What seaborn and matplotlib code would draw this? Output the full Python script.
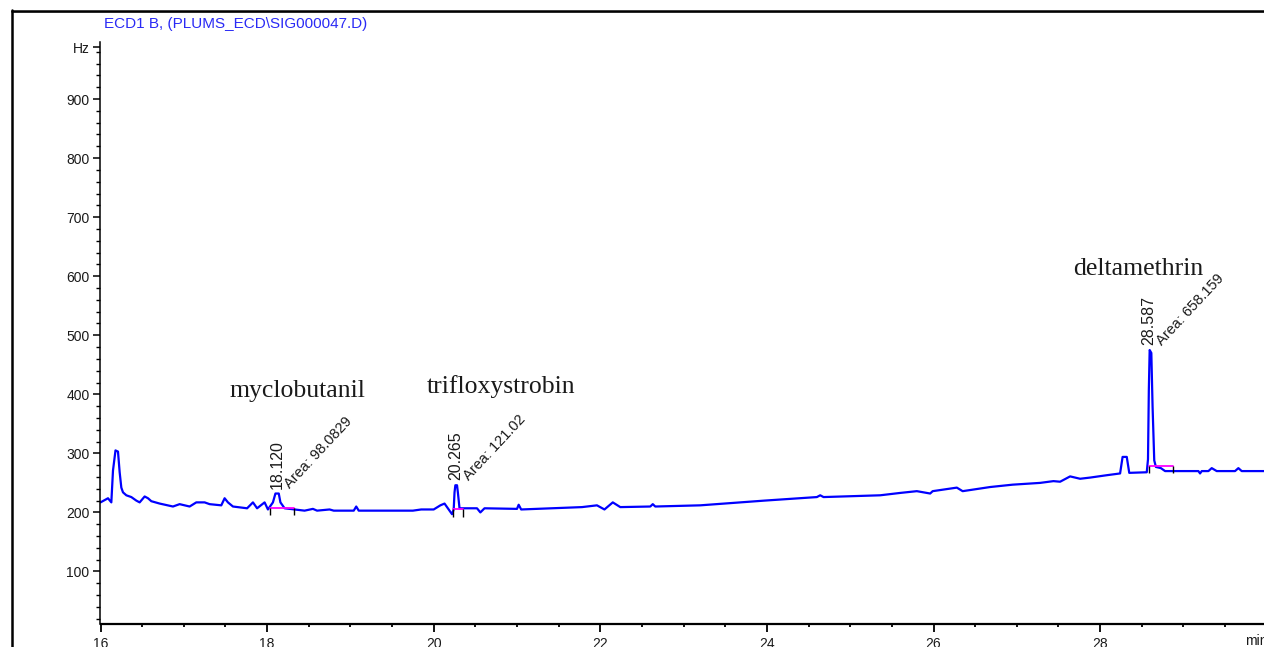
import numpy as np
import matplotlib
matplotlib.use("Agg")
import matplotlib.pyplot as plt
from matplotlib.lines import Line2D
from matplotlib.ticker import MultipleLocator
import seaborn as sns

# chromatogram trace (retention time in min, detector signal in Hz)
time_min = [
    16.00, 16.09, 16.13, 16.15, 16.18, 16.21, 16.23, 16.25, 16.27, 16.31, 16.37, 16.43, 16.47, 16.53, 16.57, 16.61,
    16.71, 16.87, 16.95, 17.07, 17.15, 17.25, 17.31, 17.45, 17.49, 17.53, 17.59, 17.76, 17.83, 17.88, 17.97, 18.01,
    18.07, 18.10, 18.14, 18.16, 18.21, 18.33,
    18.45, 18.55, 18.60, 18.75, 18.80, 19.04, 19.07, 19.10, 19.50, 19.75, 19.85, 20.00, 20.08, 20.13, 20.18, 20.22,
    20.24, 20.25, 20.26, 20.28, 20.29, 20.31,
    20.52, 20.56, 20.61, 21.00, 21.02, 21.05, 21.78, 21.96, 22.05, 22.15, 22.24, 22.60, 22.63, 22.66, 23.20, 23.97,
    24.60, 24.64, 24.68,
    25.36, 25.60, 25.80, 25.96, 25.99, 26.28, 26.35, 26.68, 26.95, 27.28, 27.44, 27.52, 27.64, 27.76, 27.88, 28.08,
    28.24, 28.27, 28.32, 28.35,
    28.56, 28.575, 28.585, 28.595, 28.615, 28.63, 28.65, 28.67, 28.73, 28.78, 29.18, 29.20, 29.22, 29.30, 29.34, 29.40,
    29.62, 29.66, 29.70, 29.97,
]
signal_hz = [
    217, 224, 217, 271, 305, 303, 268, 242, 234, 229, 226, 220, 217, 227, 224, 219,
    215, 210, 214, 210, 217, 217, 214, 212, 224, 217, 210, 207, 217, 207, 217, 205,
    217, 232, 232, 217, 207, 205,
    203, 206, 203, 205, 203, 203, 210, 203, 203, 203, 205, 205, 212, 215, 205, 197,
    205, 234, 246, 246, 234, 207,
    207, 200, 207, 206, 213, 205, 209, 212, 205, 217, 209, 210, 214, 210, 212, 220,
    226, 229, 226,
    229, 233, 236, 232, 236, 242, 236, 243, 247, 250, 253, 252, 261, 257, 259, 263,
    266, 294, 294, 267,
    268, 290, 407, 475, 470, 379, 288, 277, 275, 270, 270, 266, 270, 270, 275, 270,
    270, 275, 270, 270,
]

# integrated peaks
compounds = ["myclobutanil", "trifloxystrobin", "deltamethrin"]
peak_rt = [18.120, 20.265, 28.587]
peak_area = ["98.0829", "121.02", "658.159"]
base_start = [18.03, 20.23, 28.59]
base_end = [18.32, 20.35, 28.87]
base_level = [207, 205, 278]
name_x = [18.36, 20.81, 28.455]
name_y = [395, 403, 602]

ytick_vals = [100, 200, 300, 400, 500, 600, 700, 800, 900, 988]
ytick_labels = ["100", "200", "300", "400", "500", "600", "700", "800", "900", "Hz"]
xtick_vals = [16, 18, 20, 22, 24, 26, 28]

sns.set_theme(style="ticks")
plt.rcParams["font.family"] = ["Liberation Sans", "DejaVu Sans"]
narrow = ["Liberation Sans Narrow", "Liberation Sans", "DejaVu Sans"]

W, H = 1264, 647
fig = plt.figure(figsize=(W / 100, H / 100), dpi=100)
ax = fig.add_axes([100.5 / W, 23.5 / H, (W - 100.5) / W, 581.5 / H])

sns.lineplot(x=time_min, y=signal_hz, ax=ax, color="#0000ff", lw=1.6,
             estimator=None, sort=False)

# integration baselines with end markers
for s, e, b in zip(base_start, base_end, base_level):
    ax.plot([s, e], [b, b], color="#ff00ff", lw=1.3, zorder=3)
    ax.vlines([s, e], b - 12, b, color="black", lw=1.0, zorder=4)

t_arr = np.array(time_min)
v_arr = np.array(signal_hz)
for rt, area, name, nx, ny in zip(peak_rt, peak_area, compounds, name_x, name_y):
    top = v_arr[np.abs(t_arr - rt) < 0.05].max()
    ax.annotate(f"{rt:.3f}", (rt, top), xytext=(0, 3.5), textcoords="offset points",
                rotation=90, ha="center", va="bottom", fontsize=11.5, color="#1a1a1a")
    ax.annotate(f"Area: {area}", (rt, top), xytext=(11, 1.5), textcoords="offset points",
                rotation=47, rotation_mode="anchor", ha="left", va="bottom",
                fontsize=10.5, color="#1a1a1a")
    ax.text(nx, ny, name, ha="center", va="baseline", fontsize=18.5,
            family=["Liberation Serif", "DejaVu Serif"], color="#1a1a1a")

ax.set_xlim(16, 16 + (W - 100.5) / 83.3)
ax.set_ylim(11.9, 996.6)
ax.set_xticks(xtick_vals)
ax.set_xticklabels([str(v) for v in xtick_vals], family=narrow, fontsize=10)
ax.xaxis.set_minor_locator(MultipleLocator(0.5))
ax.set_yticks(ytick_vals)
ax.set_yticklabels(ytick_labels, family=narrow, fontsize=10)
ax.yaxis.set_minor_locator(MultipleLocator(20))
ax.tick_params(axis="x", which="major", length=5.8, width=1.3, color="black", pad=3.6, labelcolor="#1a1a1a")
ax.tick_params(axis="x", which="minor", length=2, width=1.3, color="black")
ax.tick_params(axis="y", which="major", length=5, width=1.1, color="black", pad=3, labelcolor="#1a1a1a")
ax.tick_params(axis="y", which="minor", length=2.9, width=1.0, color="black")
ax.set_xlabel("")
ax.set_ylabel("")
ax.grid(False)
for side in ("top", "right"):
    ax.spines[side].set_visible(False)
ax.spines["left"].set_linewidth(1.1)
ax.spines["bottom"].set_linewidth(1.6)
ax.spines["left"].set_color("black")
ax.spines["bottom"].set_color("black")

# outer frame of the report page
fx, fy = 12 / W, 1 - 12 / H
fig.add_artist(Line2D([fx, 1], [fy, fy], color="#9a9a9a", lw=1.2, transform=fig.transFigure))
fig.add_artist(Line2D([fx, 1], [fy + 1.2 / H, fy + 1.2 / H], color="black", lw=1.8, transform=fig.transFigure))
fig.add_artist(Line2D([fx, fx], [0, fy + 2 / H], color="black", lw=1.8, transform=fig.transFigure))

fig.text(104 / W, 1 - 24 / H, "ECD1 B, (PLUMS_ECD\\SIG000047.D)", ha="left", va="center",
         fontsize=11, color="#2a2af5")
fig.text(1245 / W, 1 - 634 / H, "min", ha="left", va="top", fontsize=10, family=narrow, color="#1a1a1a")

fig.savefig("out.png", dpi=100)
